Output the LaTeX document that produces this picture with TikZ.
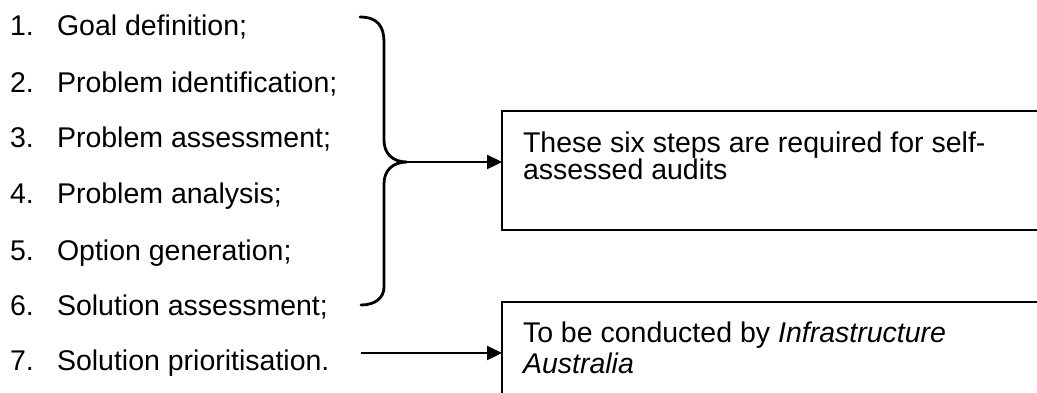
\documentclass[tikz,border=0pt]{standalone}
\usepackage{fontspec}
\setmainfont{Liberation Sans}
\usetikzlibrary{arrows.meta}
\begin{document}
\begin{tikzpicture}[x=1pt,y=-1pt,
  every node/.style={inner sep=0pt,outer sep=0pt,font=\fontsize{28.5}{27}\selectfont},
  item/.style={anchor=base west},
  boxshape/.style={draw,line width=2.6pt,rectangle,anchor=north west,minimum width=600pt},
  brace/.style={line width=2.8pt,line cap=round},
  conn/.style={line width=2.4pt,-{Triangle[length=15pt,width=14pt]}}]
\useasboundingbox (0,0) rectangle (1037,392);
\clip (0,0) rectangle (1037,392);
% list
\foreach \n/\y/\t in {1/35/{Goal definition;},2/92/{Problem identification;},3/147/{Problem assessment;},4/203/{Problem analysis;},5/260/{Option generation;},6/315/{Solution assessment;},7/370/{Solution prioritisation.}}{
  \node[item] (n\n) at (10,\y) {\n.};
  \node[item] (i\n) at (57,\y) {\t};
}
% boxes
\node[boxshape,minimum height=119pt] (b1) at (502,111) {};
\node[item,align=left] (t1) at (523,179) {These six steps are required for self-\\assessed audits};
\node[boxshape,minimum height=130pt] (b2) at (502,302) {};
\node[item,align=left,font=\fontsize{28.5}{31}\selectfont] (t2) at (523,373) {To be conducted by \textit{Infrastructure}\\\textit{Australia}};
% brace
\coordinate (tip) at (407,162);
\coordinate (p7) at (361,353);
\draw[brace] (360,17) .. controls (378,17) and (384,27) .. (384,42) -- (384,140)
  .. controls (384,153) and (392,162) .. (tip)
  .. controls (392,162) and (384,171) .. (384,184) -- (384,287)
  .. controls (384,298) and (375,305) .. (361,305);
% connectors
\draw[conn] (tip) -- (tip -| b1.west);
\draw[conn] (p7) -- (p7 -| b2.west);
\end{tikzpicture}
\end{document}
